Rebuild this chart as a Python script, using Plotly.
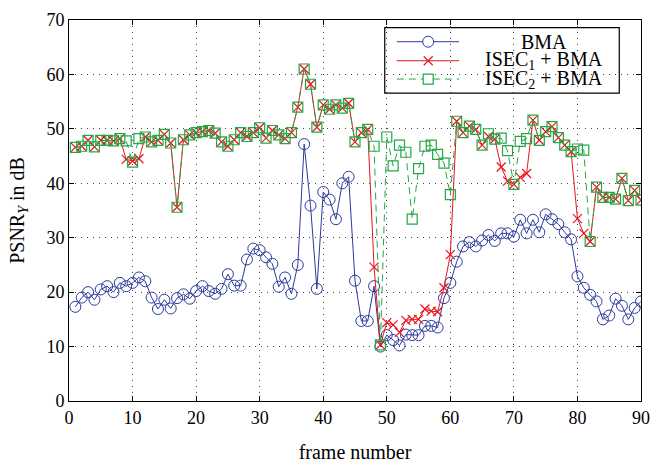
import plotly.graph_objects as go

frames = list(range(1, 91))

bma = [17.3, 19.0, 20.0, 18.6, 20.5, 21.1, 20.0, 21.7, 21.1, 21.7,
       22.7, 22.0, 19.0, 16.9, 18.6, 17.0, 18.9, 19.6, 18.8, 20.2,
       21.1, 20.2, 19.7, 20.6, 23.3, 21.2, 21.2, 26.0, 28.0, 27.7,
       26.4, 25.2, 21.0, 22.7, 19.7, 25.0, 47.2, 35.9, 20.6, 38.4,
       37.0, 33.4, 40.0, 41.2, 22.1, 14.7, 14.7, 21.1, 10.0, 12.1,
       11.2, 10.2, 12.2, 12.1, 12.1, 13.8, 13.8, 13.5, 18.9, 21.7,
       25.6, 28.4, 29.2, 28.4, 29.5, 30.5, 29.4, 30.8, 30.8, 30.2,
       33.3, 30.8, 33.3, 31.0, 34.3, 33.4, 32.5, 31.0, 29.7, 22.9,
       20.8, 19.5, 18.3, 15.0, 15.7, 18.8, 17.5, 15.0, 17.1, 18.3]

isec1 = [46.6, 46.8, 47.9, 46.7, 47.9, 47.9, 47.8, 48.2, 44.4, 44.1,
         44.5, 48.5, 47.6, 47.9, 49.0, 47.4, 35.6, 48.0, 48.9, 49.3,
         49.5, 49.7, 49.2, 47.6, 46.8, 48.0, 49.3, 48.6, 49.3, 50.2,
         48.3, 49.7, 48.9, 48.2, 49.3, 54.0, 61.0, 58.2, 50.3, 54.4,
         53.6, 54.4, 53.8, 54.7, 47.6, 49.3, 49.9, 24.6, 10.3, 14.4,
         14.0, 12.6, 14.8, 15.0, 15.0, 16.9, 16.5, 16.4, 20.8, 26.9,
         51.4, 49.3, 50.5, 49.9, 47.0, 48.6, 48.1, 43.0, 40.4, 39.8,
         41.1, 41.8, 51.6, 47.9, 49.5, 50.4, 48.4, 47.0, 45.8, 33.5,
         30.8, 29.3, 39.3, 37.4, 37.4, 37.1, 40.9, 36.8, 38.7, 36.9]

isec2 = [46.6, 46.8, 47.9, 46.7, 47.9, 47.9, 47.8, 48.2, 47.8, 43.9,
         48.2, 48.5, 47.6, 47.9, 49.0, 47.4, 35.6, 48.0, 48.9, 49.3,
         49.5, 49.7, 49.2, 47.6, 46.8, 48.0, 49.3, 48.6, 49.3, 50.2,
         48.3, 49.7, 48.9, 48.2, 49.3, 54.0, 61.0, 58.2, 50.3, 54.4,
         53.6, 54.4, 53.8, 54.7, 47.6, 49.3, 49.9, 46.8, 10.3, 48.5,
         43.2, 47.0, 45.7, 33.4, 42.7, 46.8, 47.0, 45.3, 43.7, 37.9,
         51.4, 49.3, 50.5, 49.9, 47.0, 49.1, 48.1, 48.3, 46.0, 39.8,
         47.7, 48.2, 51.6, 47.9, 49.5, 50.4, 48.4, 47.0, 45.8, 46.3,
         46.1, 29.3, 39.3, 37.4, 37.4, 37.1, 40.9, 36.8, 38.7, 36.9]

x_ticks = [0, 10, 20, 30, 40, 50, 60, 70, 80, 90]
y_ticks = [0, 10, 20, 30, 40, 50, 60, 70]

legend_names = ["BMA", "ISEC<sub>1</sub> + BMA", "ISEC<sub>2</sub> + BMA"]

BLUE = "#2b3a9c"
RED = "#e8141c"
GREEN = "#22a844"
FONT = "Liberation Serif"

fig = go.Figure()
fig.add_trace(go.Scatter(
    x=frames, y=bma, mode="lines+markers", name=legend_names[0],
    line=dict(color=BLUE, width=1),
    marker=dict(symbol="circle-open", size=11, color=BLUE, line=dict(width=1, color=BLUE)),
))
fig.add_trace(go.Scatter(
    x=frames, y=isec1, mode="lines+markers", name=legend_names[1],
    line=dict(color=RED, width=1),
    marker=dict(symbol="x-thin-open", size=9, color=RED, line=dict(width=1.2, color=RED)),
))
fig.add_trace(go.Scatter(
    x=frames, y=isec2, mode="lines+markers", name=legend_names[2],
    line=dict(color=GREEN, width=1, dash="7px,5px"),
    marker=dict(symbol="square-open", size=10, color=GREEN, line=dict(width=1.2, color=GREEN)),
))

axis_common = dict(
    showline=True, linecolor="black", linewidth=1, mirror="ticks",
    ticks="inside", ticklen=5, tickcolor="black",
    showgrid=True, gridcolor="#444", gridwidth=1, griddash="1px,5px",
    zeroline=False,
    tickfont=dict(family=FONT, size=18, color="black"),
)

fig.update_xaxes(range=[0, 90], tickvals=x_ticks, ticktext=[str(v) for v in x_ticks],
                 title=dict(text="frame number", font=dict(family=FONT, size=20, color="black"), standoff=18),
                 **axis_common)
fig.update_yaxes(range=[0, 70], tickvals=y_ticks, ticktext=[str(v) for v in y_ticks],
                 title=dict(text="PSNR<sub><i>Y</i></sub> in dB", font=dict(family=FONT, size=20, color="black"), standoff=16),
                 **axis_common)

# Custom legend (box, line samples, markers, centered labels)
shapes = []
annotations = []
box_x0, box_x1, box_y0, box_y1 = 0.552, 0.962, 0.808, 0.980
shapes.append(dict(type="rect", xref="paper", yref="paper", x0=box_x0, x1=box_x1, y0=box_y0, y1=box_y1,
                   line=dict(color="black", width=1.2), fillcolor="rgba(0,0,0,0)", layer="above"))
rows = [0.943, 0.893, 0.845]
colors = [BLUE, RED, GREEN]
dashes = ["solid", "solid", "7px,5px"]
lx0, lx1, lm = 0.573, 0.682, 0.628
for i in range(3):
    shapes.append(dict(type="line", xref="paper", yref="paper", x0=lx0, x1=lx1, y0=rows[i], y1=rows[i],
                       line=dict(color=colors[i], width=1, dash=dashes[i]), layer="above"))
    annotations.append(dict(xref="paper", yref="paper", x=0.830, y=rows[i], text=legend_names[i],
                            showarrow=False, xanchor="center", yanchor="middle",
                            font=dict(family=FONT, size=20, color="black")))
# circle marker
shapes.append(dict(type="circle", xref="paper", yref="paper", xsizemode="pixel", ysizemode="pixel",
                   xanchor=lm, yanchor=rows[0], x0=-5.5, x1=5.5, y0=-5.5, y1=5.5,
                   line=dict(color=BLUE, width=1), fillcolor="white", layer="above"))
# x marker
for sx in (-1, 1):
    shapes.append(dict(type="line", xref="paper", yref="paper", xsizemode="pixel", ysizemode="pixel",
                       xanchor=lm, yanchor=rows[1], x0=-4.5, x1=4.5, y0=-4.5 * sx, y1=4.5 * sx,
                       line=dict(color=RED, width=1.2), layer="above"))
# square marker
shapes.append(dict(type="rect", xref="paper", yref="paper", xsizemode="pixel", ysizemode="pixel",
                   xanchor=lm, yanchor=rows[2], x0=-5, x1=5, y0=-5, y1=5,
                   line=dict(color=GREEN, width=1.2), fillcolor="white", layer="above"))

fig.update_layout(
    width=660, height=470,
    margin=dict(l=69, r=15, t=10, b=59),
    paper_bgcolor="white", plot_bgcolor="white",
    showlegend=False,
    shapes=shapes, annotations=annotations,
    font=dict(family=FONT, color="black"),
)

fig.write_html("out.html",
               config={"displayModeBar": False},
               post_script="document.body.style.margin='0';document.body.style.overflow='hidden';")
